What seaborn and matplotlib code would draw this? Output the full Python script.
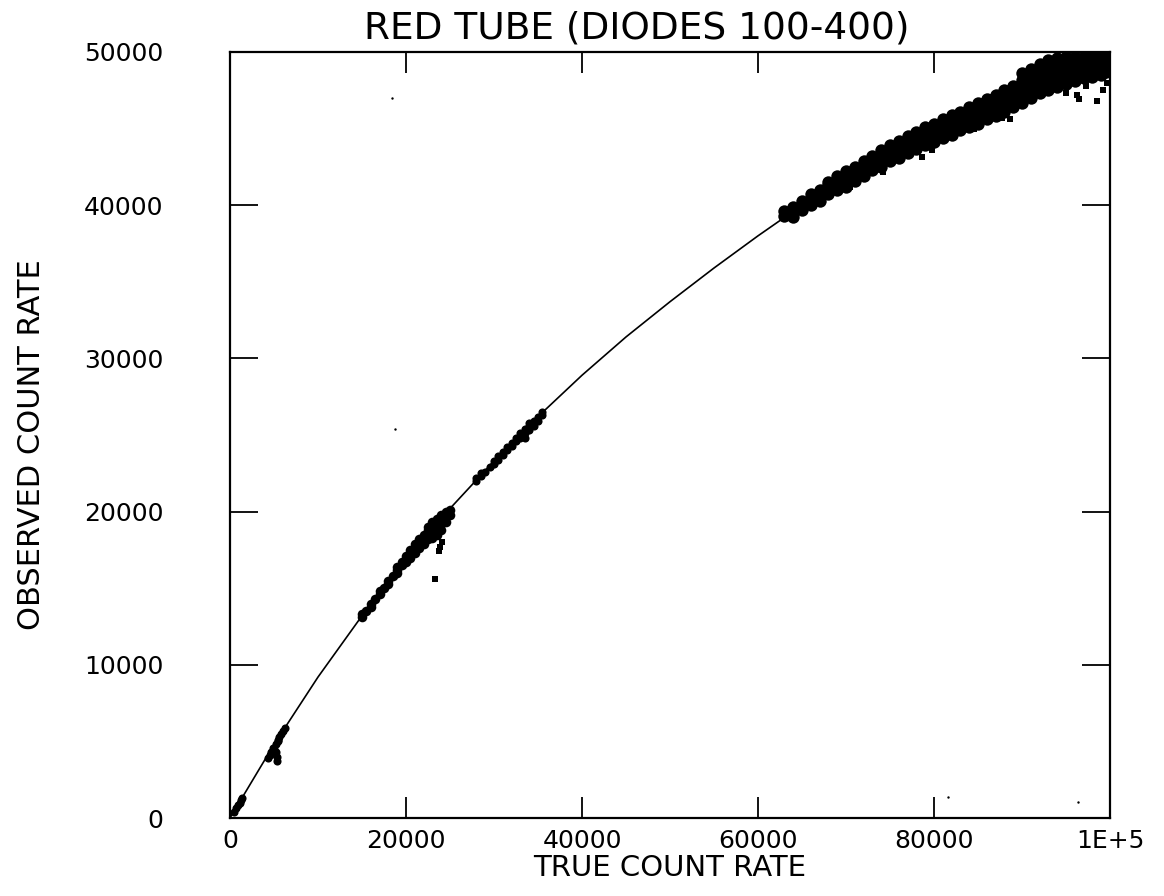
import matplotlib
matplotlib.use("Agg")
import matplotlib.pyplot as plt
import seaborn as sns
import pandas as pd

# ---------------- data ----------------
title = "RED TUBE (DIODES 100-400)"
x_label = "TRUE COUNT RATE"
y_label = "OBSERVED COUNT RATE"

x_ticks = [0, 20000, 40000, 60000, 80000, 100000]
x_tick_labels = ["0", "20000", "40000", "60000", "80000", "1E+5"]
y_ticks = [0, 10000, 20000, 30000, 40000, 50000]
y_tick_labels = ["0", "10000", "20000", "30000", "40000", "50000"]

# fitted dead-time curve
curve_x = [0, 5000, 10000, 15000, 20000, 25000, 30000, 35000, 40000, 45000,
           50000, 55000, 60000, 65000, 70000, 75000, 80000, 85000, 90000,
           95000, 100000]
curve_y = [0, 4800, 9200, 13200, 16900, 20200, 23300, 26200, 28900, 31400,
           33700, 35900, 38000, 40000, 41900, 43700, 45300, 46800, 48200,
           49300, 50200]

# cluster near the origin
c1_x = [500, 700, 900, 1100, 1300, 1400]
c1_y = [400, 650, 850, 1000, 1200, 1300]

# cluster around 5000
c2_x = [4300, 4500, 4700, 4900, 5000, 5200, 5300, 5300, 5400, 5500, 5600,
        5800, 6000, 6200, 5200]
c2_y = [3900, 4100, 4300, 4600, 4500, 4800, 3700, 4000, 5000, 5100, 5300,
        5500, 5700, 5900, 4300]

# cluster 15000 - 25000 (x, observed values at that x)
c3 = [(15000, [13100, 13300]), (15500, [13500]), (16000, [13800, 14000]),
      (16500, [14300]), (17000, [14600, 14800]), (17500, [15000]),
      (18000, [15300, 15500]), (18500, [15800]),
      (19000, [16000, 16200, 16400]), (19500, [16500, 16700]),
      (20000, [16700, 16900, 17100]), (20500, [17000, 17300, 17500]),
      (21000, [17300, 17600, 17900]), (21500, [17600, 17900, 18200]),
      (22000, [17900, 18200, 18500]), (22500, [18200, 18500, 18800, 19000]),
      (23000, [18300, 18700, 19000, 19300]),
      (23500, [18500, 18900, 19200, 19500]),
      (24000, [18800, 19200, 19500, 19800]),
      (24500, [19300, 19700, 20000]), (25000, [19800, 20100])]

# cluster 28000 - 35500
c4 = [(28000, [22000, 22200]), (28500, [22300, 22500]), (29000, [22600]),
      (29500, [22900]), (30000, [23100, 23300]), (30500, [23400, 23600]),
      (31000, [23700, 23900]), (31500, [24000, 24200]),
      (32000, [24300, 24500]), (32500, [24600, 24800]),
      (33000, [24800, 25100]), (33500, [24800, 25100, 25400]),
      (34000, [25300, 25600, 25800]), (34500, [25600, 25900]),
      (35000, [25900, 26200]), (35500, [26300, 26500])]

# large cluster 63000 - 100000
c5 = [(63000, [39300, 39600]), (64000, [39200, 39700, 39900]),
      (65000, [39700, 40100, 40300]), (66000, [40000, 40400, 40700]),
      (67000, [40300, 40700, 41000]), (68000, [40700, 41000, 41300, 41500]),
      (69000, [41000, 41300, 41600, 41900]),
      (70000, [41200, 41600, 41900, 42200]),
      (71000, [41600, 41900, 42300, 42500]),
      (72000, [41900, 42300, 42600, 42900]),
      (73000, [42300, 42600, 42900, 43200]),
      (74000, [42500, 42900, 43300, 43600]),
      (75000, [42900, 43300, 43600, 43900]),
      (76000, [43100, 43500, 43900, 44200]),
      (77000, [43400, 43800, 44200, 44500]),
      (78000, [43700, 44100, 44500, 44800]),
      (79000, [43900, 44300, 44700, 45100]),
      (80000, [44100, 44500, 44900, 45300]),
      (81000, [44400, 44800, 45200, 45600]),
      (82000, [44600, 45000, 45500, 45900]),
      (83000, [44900, 45300, 45700, 46100]),
      (84000, [45100, 45500, 46000, 46400]),
      (85000, [45300, 45800, 46200, 46700]),
      (86000, [45600, 46000, 46500, 46900]),
      (87000, [45800, 46300, 46800, 47200]),
      (88000, [46100, 46600, 47100, 47500]),
      (89000, [46400, 46900, 47400, 47800]),
      (90000, [46700, 47200, 47700, 48200, 48600]),
      (91000, [47000, 47500, 48000, 48500, 48900]),
      (92000, [47300, 47800, 48300, 48800, 49200]),
      (93000, [47500, 48000, 48500, 49000, 49500]),
      (94000, [47700, 48200, 48700, 49200, 49600]),
      (95000, [47900, 48400, 48900, 49400, 49700]),
      (96000, [48100, 48600, 49100, 49500, 49700]),
      (97000, [48300, 48800, 49300, 49700]),
      (98000, [48400, 48900, 49400, 49700]),
      (99000, [48500, 49000, 49500, 49700]),
      (99500, [48700, 49200, 49700])]

# isolated outlying points
out_x = [24100, 23700, 23900, 23300, 74200, 78600, 79800, 87700, 88600,
         95000, 96200, 96500, 97300, 98500, 99200, 99700, 84500, 70400]
out_y = [18000, 17400, 17700, 15600, 42170, 43150, 43600, 45700, 45600,
         47300, 47200, 46900, 47800, 46800, 47500, 48000, 45000, 41200]

# tiny stray specks
speck_x = [18750, 18400, 81600, 96400]
speck_y = [25390, 47000, 1370, 1040]


def flatten(groups):
    xs, ys = [], []
    for x, vals in groups:
        for v in vals:
            xs.append(x)
            ys.append(v)
    return xs, ys


c3_x, c3_y = flatten(c3)
c4_x, c4_y = flatten(c4)
c5_x, c5_y = flatten(c5)

small = pd.DataFrame({"true": c1_x + c2_x + c4_x, "obs": c1_y + c2_y + c4_y})
mid = pd.DataFrame({"true": c3_x, "obs": c3_y})
big = pd.DataFrame({"true": c5_x, "obs": c5_y})
outliers = pd.DataFrame({"true": out_x, "obs": out_y})
specks = pd.DataFrame({"true": speck_x, "obs": speck_y})
curve = pd.DataFrame({"true": curve_x, "obs": curve_y})

# ---------------- drawing ----------------
sns.set_theme(style="ticks")
plt.rcParams["font.family"] = ["DejaVu Sans"]

fig = plt.figure(figsize=(11.64, 8.96), dpi=100)
ax = fig.add_axes([230 / 1164, 1 - 818 / 896, 880 / 1164, 766 / 896])

sns.lineplot(data=curve, x="true", y="obs", ax=ax, color="black",
             linewidth=1.2, sort=False)
sns.scatterplot(data=small, x="true", y="obs", ax=ax, color="black",
                s=34, marker="o", linewidth=0)
sns.scatterplot(data=mid, x="true", y="obs", ax=ax, color="black",
                s=48, marker="o", linewidth=0)
sns.scatterplot(data=big, x="true", y="obs", ax=ax, color="black",
                s=80, marker="o", linewidth=0)
sns.scatterplot(data=outliers, x="true", y="obs", ax=ax, color="black",
                s=14, marker="s", linewidth=0)
sns.scatterplot(data=specks, x="true", y="obs", ax=ax, color="black",
                s=3, marker="o", linewidth=0)

ax.set_xlim(0, 100000)
ax.set_ylim(0, 50000)
ax.set_xticks(x_ticks)
ax.set_xticklabels(x_tick_labels)
ax.set_yticks(y_ticks)
ax.set_yticklabels(y_tick_labels)
ax.set_xlabel("")
ax.set_ylabel("")
ax.grid(False)

for sp in ax.spines.values():
    sp.set_visible(True)
    sp.set_linewidth(1.6)
    sp.set_color("black")

ax.tick_params(axis="x", direction="in", length=15, width=1.3, top=True,
               bottom=True, labelsize=18, pad=8, colors="black")
ax.tick_params(axis="y", direction="in", length=20, width=1.3, left=True,
               right=True, labelsize=18, pad=48, colors="black")

fig.text(637 / 1164, 1 - 28 / 896, title, ha="center", va="center",
         fontsize=27, color="black")
fig.text(670 / 1164, 1 - 868 / 896, x_label, ha="center", va="center",
         fontsize=21, color="black")
fig.text(32 / 1164, 1 - 445 / 896, y_label, ha="center", va="center",
         rotation=90, fontsize=22, color="black")

fig.savefig("out.png", dpi=100, facecolor="white")
